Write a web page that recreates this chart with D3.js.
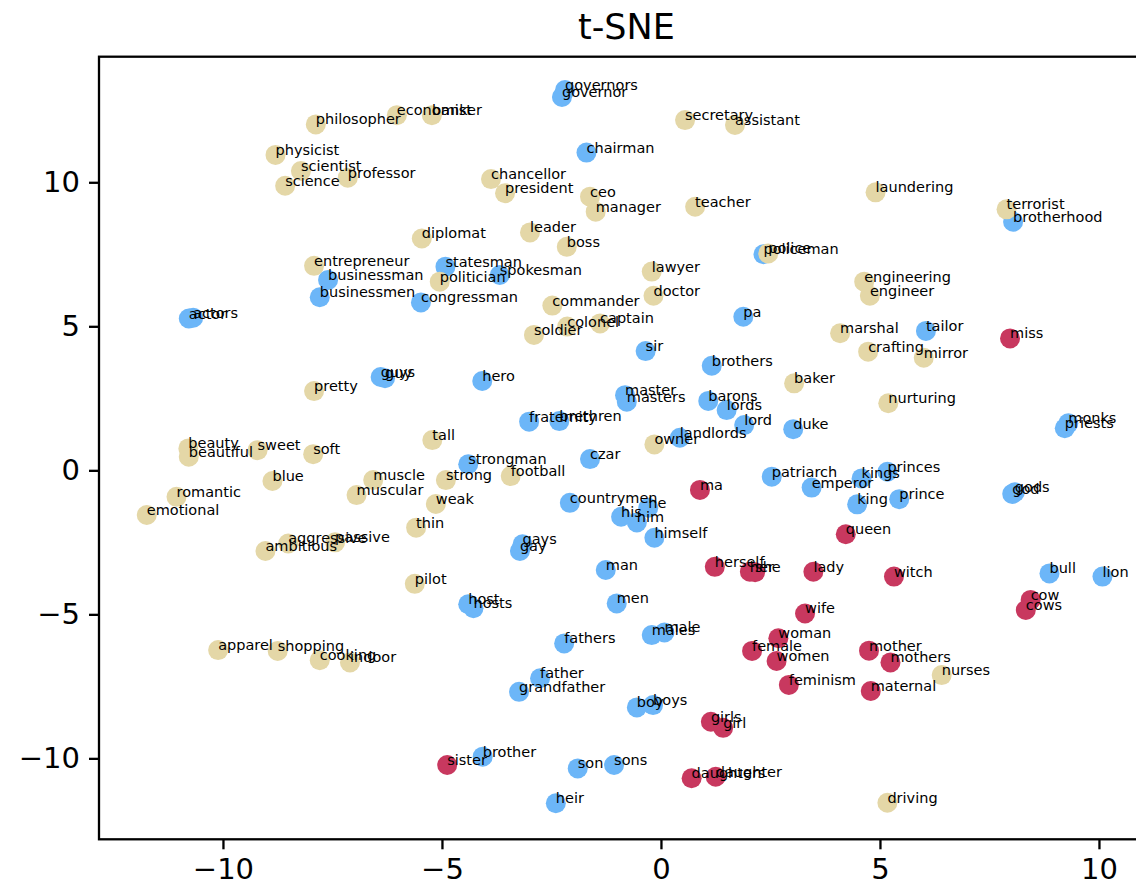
<!DOCTYPE html>
<html>
<head>
<meta charset="utf-8">
<script src="https://cdn.jsdelivr.net/npm/d3@7"></script>
<style>
  html, body { margin: 0; padding: 0; background: #fff; }
  svg { display: block; font-family: "DejaVu Sans", sans-serif; }
</style>
</head>
<body>
<svg id="chart" width="1136" height="883"></svg>
<script>
// ---- data ----
const maleWords = ["governors","governor","chairman","brotherhood","policeman","businessman","businessmen","statesman","spokesman","congressman","actor","actors","pa","tailor","sir","brothers","guys","guy","hero","master","masters","barons","lords","fraternity","brethren","lord","landlords","duke","monks","priests","czar","strongman","patriarch","emperor","kings","princes","king","prince","god","gods","countrymen","he","his","him","himself","gays","gay","man","bull","lion","host","hosts","men","males","male","fathers","father","grandfather","boy","boys","brother","son","sons","heir"];
const maleX = [-2.19,-2.26,-1.70,8.04,2.34,-7.60,-7.79,-4.92,-3.68,-5.48,-10.78,-10.68,1.88,6.05,-0.35,1.16,-6.40,-6.30,-4.08,-0.82,-0.78,1.08,1.50,-3.01,-2.32,1.90,0.43,3.02,9.30,9.22,-1.62,-4.40,2.53,3.44,4.58,5.17,4.48,5.44,8.02,8.08,-2.08,-0.29,-0.91,-0.55,-0.15,-3.16,-3.22,-1.26,8.87,10.08,-4.40,-4.28,-1.01,-0.21,0.08,-2.21,-2.76,-3.24,-0.55,-0.18,-4.07,-1.90,-1.07,-2.40];
const maleY = [13.20,12.96,11.03,8.63,7.50,6.61,6.01,7.07,6.78,5.83,5.27,5.30,5.33,4.84,4.14,3.63,3.24,3.20,3.10,2.61,2.38,2.41,2.09,1.69,1.71,1.57,1.13,1.43,1.63,1.46,0.39,0.21,-0.22,-0.60,-0.28,-0.05,-1.18,-1.00,-0.82,-0.76,-1.13,-1.30,-1.61,-1.81,-2.34,-2.57,-2.80,-3.46,-3.58,-3.69,-4.65,-4.79,-4.62,-5.72,-5.63,-6.01,-7.22,-7.69,-8.23,-8.15,-9.94,-10.35,-10.23,-11.56];

const femaleWords = ["miss","ma","queen","herself","her","she","lady","witch","cow","cows","wife","woman","female","women","mother","mothers","feminism","maternal","girls","girl","sister","daughters","daughter"];
const femaleX = [7.97,0.89,4.22,1.23,2.03,2.15,3.48,5.32,8.44,8.33,3.29,2.68,2.08,2.64,4.75,5.24,2.92,4.79,1.14,1.42,-4.88,0.70,1.25];
const femaleY = [4.58,-0.68,-2.22,-3.35,-3.52,-3.54,-3.52,-3.69,-4.50,-4.85,-4.97,-5.83,-6.27,-6.62,-6.26,-6.67,-7.45,-7.66,-8.73,-8.94,-10.23,-10.69,-10.64];

const neutralWords = ["economist","banker","philosopher","physicist","scientist","science","professor","secretary","assistant","chancellor","president","ceo","manager","teacher","laundering","terrorist","diplomat","leader","boss","police","entrepreneur","politician","lawyer","engineering","engineer","doctor","commander","colonel","captain","soldier","marshal","crafting","mirror","pretty","baker","nurturing","tall","beauty","beautiful","sweet","soft","owner","football","strong","muscle","blue","muscular","weak","romantic","emotional","thin","aggressive","passive","ambitious","pilot","apparel","shopping","cooking","indoor","nurses","driving"];
const neutralX = [-6.03,-5.23,-7.88,-8.80,-8.22,-8.58,-7.15,0.55,1.69,-3.88,-3.56,-1.62,-1.49,0.78,4.90,7.89,-5.46,-2.99,-2.15,2.45,-7.92,-5.05,-0.21,4.64,4.77,-0.17,-2.48,-2.14,-1.39,-2.90,4.09,4.73,6.00,-7.92,3.04,5.19,-5.22,-10.79,-10.78,-9.21,-7.94,-0.15,-3.43,-4.91,-6.57,-8.87,-6.95,-5.14,-11.06,-11.74,-5.59,-8.51,-7.44,-9.03,-5.62,-10.11,-8.75,-7.79,-7.10,6.41,5.17];
const neutralY = [12.33,12.33,12.01,10.95,10.39,9.88,10.16,12.16,11.99,10.11,9.62,9.50,8.98,9.15,9.65,9.06,8.05,8.26,7.76,7.53,7.10,6.55,6.90,6.55,6.06,6.06,5.72,4.99,5.10,4.70,4.76,4.12,3.91,2.75,3.02,2.33,1.05,0.76,0.47,0.70,0.56,0.90,-0.20,-0.34,-0.34,-0.37,-0.86,-1.17,-0.92,-1.55,-1.99,-2.54,-2.50,-2.80,-3.94,-6.24,-6.27,-6.59,-6.67,-7.11,-11.54];

const xTicks = [-10, -5, 0, 5, 10];
const yTicks = [-10, -5, 0, 5, 10];
const chartTitle = "t-SNE";

// ---- layout ----
const svg = d3.select("#chart");
const plotLeft = 99, plotTop = 56.7, plotBottom = 839.3;
const x = d3.scaleLinear().domain([-12.83, 11.25]).range([plotLeft, plotLeft + 43.8 * 24.08]);
const y = d3.scaleLinear().domain([-12.81, 14.36]).range([plotBottom, plotTop]);
const plotRight = x.range()[1];

const groups = [
  {words: maleWords, xs: maleX, ys: maleY, color: "#6cb6f8"},
  {words: femaleWords, xs: femaleX, ys: femaleY, color: "#c8385f"},
  {words: neutralWords, xs: neutralX, ys: neutralY, color: "#e4d7a7"}
];

// dots
groups.forEach(g => {
  svg.append("g").selectAll("circle")
    .data(g.words.map((w, i) => ({w, x: g.xs[i], y: g.ys[i]})))
    .join("circle")
    .attr("cx", d => x(d.x))
    .attr("cy", d => y(d.y))
    .attr("r", 10)
    .attr("fill", g.color);
});

// labels
groups.forEach(g => {
  svg.append("g").selectAll("text")
    .data(g.words.map((w, i) => ({w, x: g.xs[i], y: g.ys[i]})))
    .join("text")
    .attr("x", d => x(d.x))
    .attr("y", d => y(d.y))
    .attr("font-size", "14.5px")
    .attr("fill", "#000")
    .text(d => d.w);
});

// frame
svg.append("rect")
  .attr("x", plotLeft).attr("y", plotTop)
  .attr("width", plotRight - plotLeft).attr("height", plotBottom - plotTop)
  .attr("fill", "none").attr("stroke", "#000").attr("stroke-width", 2.3);

// axes
const xAxis = d3.axisBottom(x).tickValues(xTicks).tickSize(10).tickPadding(9);
const yAxis = d3.axisLeft(y).tickValues(yTicks).tickSize(10).tickPadding(9);

const gx = svg.append("g").attr("transform", `translate(0,${plotBottom})`).call(xAxis);
const gy = svg.append("g").attr("transform", `translate(${plotLeft},0)`).call(yAxis);
[gx, gy].forEach(g => {
  g.select(".domain").remove();
  g.selectAll(".tick line").attr("stroke", "#000").attr("stroke-width", 2.3);
  g.selectAll(".tick text").attr("fill", "#000")
    .attr("font-family", "DejaVu Sans").attr("font-size", "29px");
});

// title
svg.append("text")
  .attr("x", (plotLeft + plotRight) / 2)
  .attr("y", 39)
  .attr("text-anchor", "middle")
  .attr("font-size", "35px")
  .attr("fill", "#000")
  .text(chartTitle);
</script>
</body>
</html>
